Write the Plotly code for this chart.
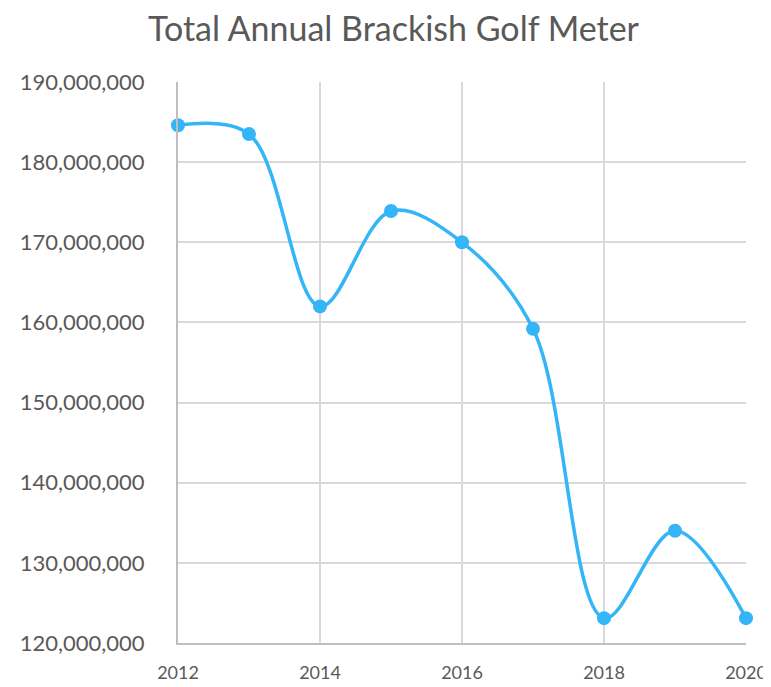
import plotly.graph_objects as go

years = [2012, 2013, 2014, 2015, 2016, 2017, 2018, 2019, 2020]
values = [184600000, 183500000, 162000000, 173900000, 170000000, 159200000, 123100000, 134000000, 123100000]
title_text = "Total Annual Brackish Golf Meter"

font_family = "Lato, Noto Sans, sans-serif"
text_color = "#595959"

fig = go.Figure(go.Scatter(
    x=years, y=values, mode="lines+markers",
    line=dict(color="#33b5f7", width=3.5, shape="spline", smoothing=1.0),
    marker=dict(color="#33b5f7", size=14),
    hoverinfo="x+y",
    cliponaxis=False,
))

fig.update_layout(
    width=771, height=687,
    margin=dict(l=160, r=33, t=74, b=52),
    paper_bgcolor="white", plot_bgcolor="white",
    showlegend=False,
    title=dict(text=title_text, x=0.5, xanchor="center", y=0.97, yanchor="middle",
               font=dict(family=font_family, size=34, color=text_color)),
    font=dict(family=font_family, size=18, color=text_color),
)
fig.update_xaxes(
    range=[2012, 2020], tickvals=[2012, 2014, 2016, 2018, 2020],
    showgrid=True, gridcolor="#d9d9d9", gridwidth=1.5,
    showline=True, linecolor="#bfbfbf", linewidth=2,
    ticks="", ticklabelstandoff=12, zeroline=False,
    ticklabeloverflow="allow",
    tickfont=dict(size=18, color=text_color),
)
fig.update_yaxes(
    range=[120000000, 190000000], dtick=10000000, tickformat=",",
    showgrid=True, gridcolor="#d9d9d9", gridwidth=1.5,
    showline=True, linecolor="#bfbfbf", linewidth=2,
    ticks="", ticklabelstandoff=27, zeroline=False,
    tickfont=dict(size=22, color=text_color),
)

fig.write_html("out.html")
